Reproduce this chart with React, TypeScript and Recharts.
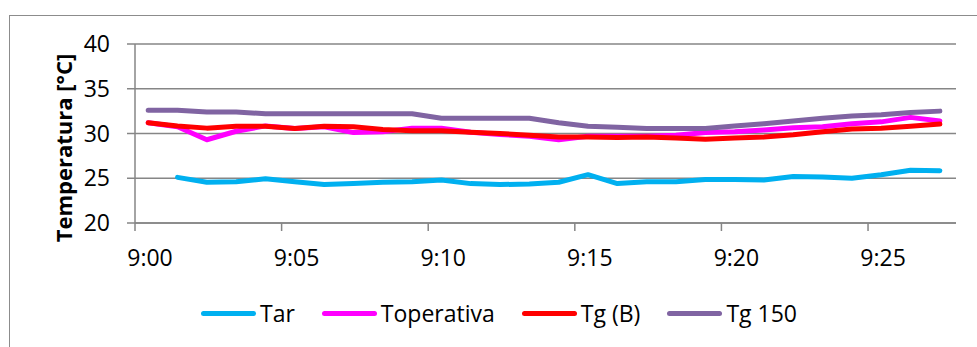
import { LineChart, Line, XAxis, YAxis, CartesianGrid } from "recharts";

// sample times (h:mm:ss), one reading per minute
const times = [
  "9:00:27", "9:01:27", "9:02:27", "9:03:27", "9:04:27", "9:05:27", "9:06:27",
  "9:07:27", "9:08:27", "9:09:27", "9:10:27", "9:11:27", "9:12:27", "9:13:27",
  "9:14:27", "9:15:27", "9:16:27", "9:17:27", "9:18:27", "9:19:27", "9:20:27",
  "9:21:27", "9:22:27", "9:23:27", "9:24:27", "9:25:27", "9:26:27", "9:27:27",
];

const tar = [
  null, 25.1, 24.55, 24.6, 24.95, 24.6, 24.3, 24.4, 24.55, 24.6, 24.8, 24.4, 24.3, 24.35,
  24.55, 25.4, 24.4, 24.6, 24.6, 24.85, 24.85, 24.8, 25.2, 25.15, 25.0, 25.4, 25.9, 25.85,
];
const toperativa = [
  31.2, 30.75, 29.3, 30.25, 30.85, 30.55, 30.75, 30.1, 30.2, 30.6, 30.6, 30.15, 29.9, 29.7,
  29.3, 29.7, 29.7, 29.7, 29.8, 30.1, 30.2, 30.4, 30.65, 30.75, 31.1, 31.3, 31.8, 31.4,
];
const tgB = [
  31.2, 30.85, 30.6, 30.8, 30.8, 30.55, 30.8, 30.75, 30.45, 30.3, 30.3, 30.15, 30.0, 29.8,
  29.6, 29.6, 29.55, 29.6, 29.5, 29.35, 29.5, 29.6, 29.85, 30.2, 30.5, 30.6, 30.8, 31.05,
];
const tg150 = [
  32.6, 32.6, 32.4, 32.4, 32.2, 32.2, 32.2, 32.2, 32.2, 32.2, 31.7, 31.7, 31.7, 31.7,
  31.2, 30.8, 30.7, 30.55, 30.55, 30.55, 30.85, 31.1, 31.4, 31.7, 31.95, 32.1, 32.35, 32.5,
];

const xTicks = [0, 5, 10, 15, 20, 25];
const yTicks = [20, 25, 30, 35, 40];

const series = [
  { key: "Tar", color: "#00B0F0", values: tar },
  { key: "Toperativa", color: "#FF00FF", values: toperativa },
  { key: "Tg (B)", color: "#FF0000", values: tgB },
  { key: "Tg 150", color: "#8064A2", values: tg150 },
];

// minutes after 9:00
const toMinutes = (t: string) => {
  const [h, m, s] = t.split(":").map(Number);
  return (h - 9) * 60 + m + s / 60;
};

const data = times.map((t, i) => {
  const row: Record<string, number | null> = { t: toMinutes(t) };
  series.forEach((s) => {
    row[s.key] = s.values[i];
  });
  return row;
});

const font = "'Open Sans', sans-serif";
const gray = "#868686";

const fmtTime = (v: number) => `9:${String(v).padStart(2, "0")}`;

// time labels sit a little to the right of their tick marks
function TimeTick(props: any) {
  const { x, y, payload } = props;
  return (
    <text x={x + 15} y={y} dy="0.71em" textAnchor="middle" fontFamily={font} fontSize={23} fill="#000">
      {fmtTime(payload.value)}
    </text>
  );
}

function LegendRow() {
  return (
    <div
      style={{
        position: "absolute",
        left: 201,
        top: 297,
        display: "flex",
        alignItems: "center",
        fontFamily: font,
        fontSize: 23,
        color: "#000",
        whiteSpace: "nowrap",
      }}
    >
      {series.map((s) => (
        <div key={s.key} style={{ display: "flex", alignItems: "center", marginRight: 27 }}>
          <span
            style={{
              display: "inline-block",
              width: 55,
              height: 5,
              borderRadius: 3,
              background: s.color,
              marginRight: 4,
            }}
          />
          <span>{s.key}</span>
        </div>
      ))}
    </div>
  );
}

export default function App() {
  return (
    <div style={{ position: "absolute", left: 0, top: 0, width: 977, height: 347, overflow: "hidden", background: "#fff" }}>
      <div
        style={{
          position: "absolute",
          left: 9,
          top: 15,
          width: 1000,
          height: 400,
          border: "1px solid #8c8c8c",
          boxSizing: "border-box",
        }}
      />
      <LineChart
        width={977}
        height={347}
        data={data}
        margin={{ top: 44, right: 21, bottom: 94, left: 75 }}
        style={{ position: "absolute", left: 0, top: 0 }}
      >
        <CartesianGrid vertical={false} stroke={gray} strokeWidth={1.5} />
        <XAxis
          dataKey="t"
          type="number"
          domain={[0, 28]}
          ticks={xTicks}
          stroke={gray}
          strokeWidth={1.5}
          tickSize={8}
          tickMargin={19}
          tick={<TimeTick />}
          allowDataOverflow
        />
        <YAxis
          domain={[20, 40]}
          ticks={yTicks}
          stroke={gray}
          strokeWidth={1.5}
          tickSize={8}
          tickMargin={17}
          width={60}
          tick={{ fill: "#000", fontSize: 23, fontFamily: font }}
          label={() => (
            <text
              x={63}
              y={148}
              transform="rotate(-90, 63, 148)"
              textAnchor="middle"
              dominantBaseline="central"
              fontFamily={font}
              fontSize={22}
              fontWeight="bold"
              fill="#000"
            >
              Temperatura [°C]
            </text>
          )}
        />
        {series.map((s) => (
          <Line
            key={s.key}
            dataKey={s.key}
            stroke={s.color}
            strokeWidth={5}
            strokeLinecap="round"
            strokeLinejoin="round"
            dot={false}
            activeDot={false}
            isAnimationActive={false}
          />
        ))}
      </LineChart>
      <LegendRow />
    </div>
  );
}
